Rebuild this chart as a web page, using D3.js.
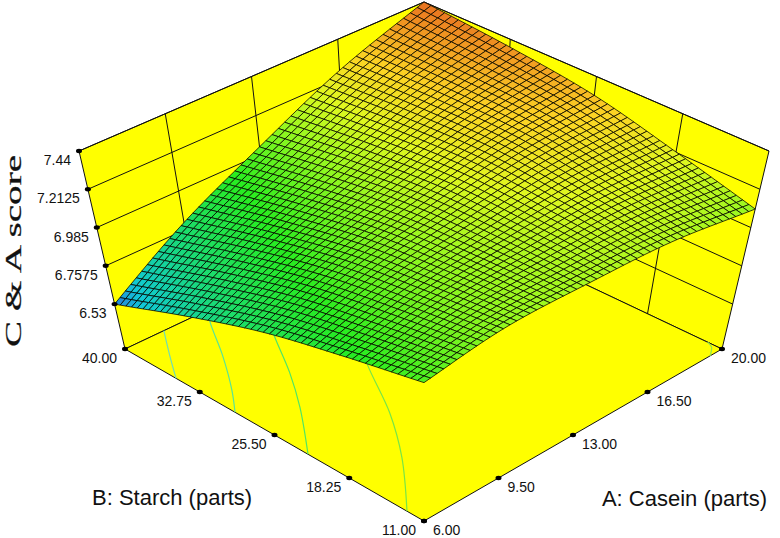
<!DOCTYPE html>
<html>
<head>
<meta charset="utf-8">
<script src="https://cdnjs.cloudflare.com/ajax/libs/d3/7.8.5/d3.min.js"></script>
<style>
  html, body { margin: 0; padding: 0; background: #fff; }
  text { font-family: "Liberation Sans", Arial, sans-serif; fill: #111; }
</style>
</head>
<body>
<div id="chart"></div>
<script>
var caseinTicks = [6, 9.5, 13, 16.5, 20];
var starchTicks = [11, 18.25, 25.5, 32.75, 40];
var scoreTicks = [6.53, 6.7575, 6.985, 7.2125, 7.44];
var caseinLabels = ['6.00', '9.50', '13.00', '16.50', '20.00'];
var starchLabels = ['11.00', '18.25', '25.50', '32.75', '40.00'];
var scoreLabels = ['6.53', '6.7575', '6.985', '7.2125', '7.44'];

// C & A score at the tick crossings.
// rows follow starchTicks, columns follow caseinTicks
var zTable = [
  [7.00, 7.09, 7.12, 7.135, 7.095],
  [6.93, 7.061, 7.138, 7.203, 7.215],
  [6.84, 7.017, 7.144, 7.264, 7.33],
  [6.70, 6.922, 7.10, 7.273, 7.395],
  [6.53, 6.80, 7.03, 7.26, 7.44]
];

// contour lines on the floor as [casein, starch]
var contourColors = ['#70dcb4', '#5ae496', '#50e664', '#78e646', '#90e650'];
var contourLines = [
  [[6, 35.05], [6.88, 37.5], [7.82, 40]],
  [[6, 29.33], [6.9, 31.5], [8.2, 35.1], [9.4, 38.8], [9.9, 40]],
  [[6, 22.25], [7.82, 26.8], [9.08, 30.4], [10.31, 34.4], [11.5, 38]],
  [[6, 12.65], [8.13, 17.55], [9.72, 22], [11.29, 27.4], [12.5, 31]],
  [[19.44, 11], [19.87, 11.75], [20, 12.4]]
];

var colorStops = [6.53, 6.6, 6.75, 6.95, 7.1, 7.2, 7.3, 7.44];
var colorRange = ['#2a78d8', '#10c8d8', '#18d880', '#28ec20', '#98f820', '#e0f820', '#fcd424', '#e87020'];

var width = 780, height = 538;
var meshCells = 50;
var scoreFloor = 6.263;

var svg = d3.select('#chart').append('svg')
  .attr('width', width)
  .attr('height', height)
  .style('display', 'block');

// box corners on screen, floor and top plane
var floorBox = { f: [424, 521], r: [722, 349], l: [125, 349], b: [424, 208] };
var topBox = { f: [424, 300], r: [769, 151], l: [79, 151], b: [424, 2] };

var caseinScale = d3.scaleLinear().domain([6, 20]).range([0, 1]);
var starchScale = d3.scaleLinear().domain([11, 40]).range([0, 1]);
var scoreScale = d3.scaleLinear().domain([scoreFloor, 7.44]).range([0, 1]);
var colorScale = d3.scaleLinear().domain(colorStops).range(colorRange);

function planePoint(box, u, v) {
  return [0, 1].map(function(i) {
    return (1 - u) * (1 - v) * box.f[i] + u * (1 - v) * box.r[i] + (1 - u) * v * box.l[i] + u * v * box.b[i];
  });
}

function project(casein, starch, score) {
  var u = caseinScale(casein), v = starchScale(starch), w = scoreScale(score);
  var p0 = planePoint(floorBox, u, v), p1 = planePoint(topBox, u, v);
  return [p0[0] + (p1[0] - p0[0]) * w, p0[1] + (p1[1] - p0[1]) * w];
}

function catmull(p0, p1, p2, p3, t) {
  return 0.5 * (2 * p1 + (p2 - p0) * t + (2 * p0 - 5 * p1 + 4 * p2 - p3) * t * t + (3 * p1 - p0 - 3 * p2 + p3) * t * t * t);
}

function spline(values, x) {
  var n = values.length - 1;
  var i = Math.min(Math.floor(x), n - 1);
  var at = function(k) {
    if (k < 0) return 2 * values[0] - values[1];
    if (k > n) return 2 * values[n] - values[n - 1];
    return values[k];
  };
  return catmull(at(i - 1), at(i), at(i + 1), at(i + 2), x - i);
}

// the wireframe is finer than the table, so it is refined from zTable with a spline
function scoreAt(casein, starch) {
  var x = caseinScale(casein) * (caseinTicks.length - 1);
  var y = starchScale(starch) * (starchTicks.length - 1);
  return spline(zTable.map(function(row) { return spline(row, x); }), y);
}

var lineGen = d3.line();

function wallPolygon(a, b) {
  return lineGen([floorBox[a], floorBox[b], topBox[b], topBox[a]]) + 'Z';
}

var walls = svg.append('g');
walls.append('path').attr('d', wallPolygon('l', 'b'));
walls.append('path').attr('d', wallPolygon('b', 'r'));
walls.append('path').attr('d', lineGen([floorBox.l, floorBox.f, floorBox.r, floorBox.b]) + 'Z');
walls.selectAll('path')
  .attr('fill', '#ffff00')
  .attr('stroke', '#111')
  .attr('stroke-width', 1)
  .attr('stroke-linejoin', 'round');

var gridLines = svg.append('g')
  .attr('fill', 'none')
  .attr('stroke', '#111')
  .attr('stroke-width', 1);

scoreTicks.forEach(function(d) {
  gridLines.append('path')
    .attr('d', lineGen([project(6, 40, d), project(20, 40, d), project(20, 11, d)]));
});
caseinTicks.slice(1, -1).forEach(function(d) {
  gridLines.append('path')
    .attr('d', lineGen([project(d, 40, scoreFloor), project(d, 40, 7.44)]));
});
starchTicks.slice(1, -1).forEach(function(d) {
  gridLines.append('path')
    .attr('d', lineGen([project(20, d, scoreFloor), project(20, d, 7.44)]));
});

var contourLine = d3.line().curve(d3.curveCatmullRom);
svg.append('g').selectAll('.contour')
  .data(contourLines)
  .enter().append('path')
  .attr('class', 'contour')
  .attr('fill', 'none')
  .attr('stroke-width', 1.2)
  .attr('stroke', function(d, i) { return contourColors[i]; })
  .attr('d', function(d) {
    return contourLine(d.map(function(p) { return project(p[0], p[1], scoreFloor); }));
  });

// surface cells, painted back to front
var cells = [];
var stepA = d3.range(meshCells + 1).map(function(i) { return 6 + 14 * i / meshCells; });
var stepB = d3.range(meshCells + 1).map(function(i) { return 11 + 29 * i / meshCells; });
for (var j = meshCells - 1; j >= 0; j--) {
  for (var i = meshCells - 1; i >= 0; i--) {
    cells.push([stepA[i], stepA[i + 1], stepB[j], stepB[j + 1]]);
  }
}

svg.append('g').selectAll('.cell')
  .data(cells)
  .enter().append('path')
  .attr('class', 'cell')
  .attr('fill', function(d) {
    return colorScale(scoreAt((d[0] + d[1]) / 2, (d[2] + d[3]) / 2));
  })
  .attr('stroke', '#000')
  .attr('stroke-width', 0.75)
  .attr('stroke-linejoin', 'round')
  .attr('d', function(d) {
    return lineGen([
      project(d[0], d[2], scoreAt(d[0], d[2])),
      project(d[1], d[2], scoreAt(d[1], d[2])),
      project(d[1], d[3], scoreAt(d[1], d[3])),
      project(d[0], d[3], scoreAt(d[0], d[3]))
    ]) + 'Z';
  });

// tick dots
var dots = scoreTicks.map(function(d) { return project(6, 40, d); })
  .concat(starchTicks.map(function(d) { return project(6, d, scoreFloor); }))
  .concat(caseinTicks.map(function(d) { return project(d, 11, scoreFloor); }));

svg.append('g').selectAll('ellipse')
  .data(dots)
  .enter().append('ellipse')
  .attr('cx', function(d) { return d[0]; })
  .attr('cy', function(d) { return d[1]; })
  .attr('rx', 3)
  .attr('ry', 2.2)
  .attr('fill', '#000');

// tick labels
function addLabels(labels, points, dx, dy, anchor) {
  svg.append('g').selectAll('text')
    .data(labels)
    .enter().append('text')
    .attr('x', function(d, i) { return points[i][0] + dx; })
    .attr('y', function(d, i) { return points[i][1] + dy; })
    .attr('text-anchor', anchor)
    .attr('font-size', '14px')
    .text(function(d) { return d; });
}

addLabels(scoreLabels, scoreTicks.map(function(d) { return project(6, 40, d); }), -8, 14, 'end');
addLabels(starchLabels, starchTicks.map(function(d) { return project(6, d, scoreFloor); }), -8, 14, 'end');
addLabels(caseinLabels, caseinTicks.map(function(d) { return project(d, 11, scoreFloor); }), 9, 14, 'start');

svg.append('text')
  .attr('x', 92)
  .attr('y', 505)
  .attr('font-size', '22px')
  .text('B: Starch (parts)');

svg.append('text')
  .attr('x', 767)
  .attr('y', 506)
  .attr('text-anchor', 'end')
  .attr('font-size', '22px')
  .text('A: Casein (parts)');

svg.append('text')
  .attr('transform', 'translate(21,251) rotate(-90)')
  .attr('text-anchor', 'middle')
  .attr('textLength', 192)
  .attr('lengthAdjust', 'spacingAndGlyphs')
  .style('font-family', '"Liberation Serif", serif')
  .style('font-size', '23.5px')
  .attr('stroke', '#111')
  .attr('stroke-width', 0.25)
  .text('C & A score');
</script>
</body>
</html>
